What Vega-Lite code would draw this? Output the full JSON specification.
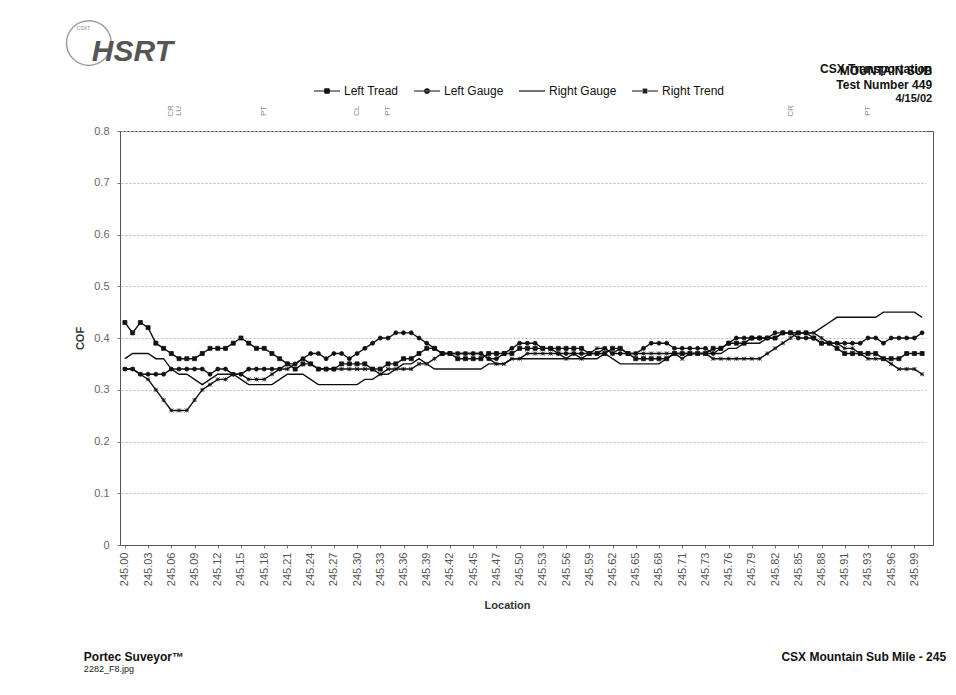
{
"$schema": "https://vega.github.io/schema/vega-lite/v6.json",
"width": 813,
"height": 414,
"autosize": {"type": "none"},
"padding": {"left": 120, "top": 131, "right": 23, "bottom": 150},
"background": "white",
"config": {"view": {"stroke": "#555", "strokeWidth": 1}, "font": "Liberation Sans"},
"datasets": {
"cof": [
{"Location":245.00,"Series":"Left Tread","COF":0.43},{"Location":245.01,"Series":"Left Tread","COF":0.41},{"Location":245.02,"Series":"Left Tread","COF":0.43},{"Location":245.03,"Series":"Left Tread","COF":0.42},{"Location":245.04,"Series":"Left Tread","COF":0.39},{"Location":245.05,"Series":"Left Tread","COF":0.38},{"Location":245.06,"Series":"Left Tread","COF":0.37},{"Location":245.07,"Series":"Left Tread","COF":0.36},{"Location":245.08,"Series":"Left Tread","COF":0.36},{"Location":245.09,"Series":"Left Tread","COF":0.36},
{"Location":245.10,"Series":"Left Tread","COF":0.37},{"Location":245.11,"Series":"Left Tread","COF":0.38},{"Location":245.12,"Series":"Left Tread","COF":0.38},{"Location":245.13,"Series":"Left Tread","COF":0.38},{"Location":245.14,"Series":"Left Tread","COF":0.39},{"Location":245.15,"Series":"Left Tread","COF":0.40},{"Location":245.16,"Series":"Left Tread","COF":0.39},{"Location":245.17,"Series":"Left Tread","COF":0.38},{"Location":245.18,"Series":"Left Tread","COF":0.38},{"Location":245.19,"Series":"Left Tread","COF":0.37},
{"Location":245.20,"Series":"Left Tread","COF":0.36},{"Location":245.21,"Series":"Left Tread","COF":0.35},{"Location":245.22,"Series":"Left Tread","COF":0.34},{"Location":245.23,"Series":"Left Tread","COF":0.35},{"Location":245.24,"Series":"Left Tread","COF":0.35},{"Location":245.25,"Series":"Left Tread","COF":0.34},{"Location":245.26,"Series":"Left Tread","COF":0.34},{"Location":245.27,"Series":"Left Tread","COF":0.34},{"Location":245.28,"Series":"Left Tread","COF":0.35},{"Location":245.29,"Series":"Left Tread","COF":0.35},
{"Location":245.30,"Series":"Left Tread","COF":0.35},{"Location":245.31,"Series":"Left Tread","COF":0.35},{"Location":245.32,"Series":"Left Tread","COF":0.34},{"Location":245.33,"Series":"Left Tread","COF":0.34},{"Location":245.34,"Series":"Left Tread","COF":0.35},{"Location":245.35,"Series":"Left Tread","COF":0.35},{"Location":245.36,"Series":"Left Tread","COF":0.36},{"Location":245.37,"Series":"Left Tread","COF":0.36},{"Location":245.38,"Series":"Left Tread","COF":0.37},{"Location":245.39,"Series":"Left Tread","COF":0.38},
{"Location":245.40,"Series":"Left Tread","COF":0.38},{"Location":245.41,"Series":"Left Tread","COF":0.37},{"Location":245.42,"Series":"Left Tread","COF":0.37},{"Location":245.43,"Series":"Left Tread","COF":0.36},{"Location":245.44,"Series":"Left Tread","COF":0.36},{"Location":245.45,"Series":"Left Tread","COF":0.36},{"Location":245.457,"Series":"Left Tread","COF":0.36},{"Location":245.463,"Series":"Left Tread","COF":0.37},{"Location":245.47,"Series":"Left Tread","COF":0.37},{"Location":245.48,"Series":"Left Tread","COF":0.37},
{"Location":245.49,"Series":"Left Tread","COF":0.37},{"Location":245.50,"Series":"Left Tread","COF":0.38},{"Location":245.51,"Series":"Left Tread","COF":0.38},{"Location":245.52,"Series":"Left Tread","COF":0.38},{"Location":245.53,"Series":"Left Tread","COF":0.38},{"Location":245.54,"Series":"Left Tread","COF":0.38},{"Location":245.55,"Series":"Left Tread","COF":0.38},{"Location":245.56,"Series":"Left Tread","COF":0.38},{"Location":245.57,"Series":"Left Tread","COF":0.38},{"Location":245.58,"Series":"Left Tread","COF":0.38},
{"Location":245.59,"Series":"Left Tread","COF":0.37},{"Location":245.60,"Series":"Left Tread","COF":0.37},{"Location":245.61,"Series":"Left Tread","COF":0.37},{"Location":245.62,"Series":"Left Tread","COF":0.38},{"Location":245.63,"Series":"Left Tread","COF":0.38},{"Location":245.64,"Series":"Left Tread","COF":0.37},{"Location":245.65,"Series":"Left Tread","COF":0.36},{"Location":245.66,"Series":"Left Tread","COF":0.36},{"Location":245.67,"Series":"Left Tread","COF":0.36},{"Location":245.68,"Series":"Left Tread","COF":0.36},
{"Location":245.69,"Series":"Left Tread","COF":0.36},{"Location":245.70,"Series":"Left Tread","COF":0.37},{"Location":245.71,"Series":"Left Tread","COF":0.37},{"Location":245.717,"Series":"Left Tread","COF":0.37},{"Location":245.723,"Series":"Left Tread","COF":0.37},{"Location":245.73,"Series":"Left Tread","COF":0.37},{"Location":245.74,"Series":"Left Tread","COF":0.38},{"Location":245.75,"Series":"Left Tread","COF":0.38},{"Location":245.76,"Series":"Left Tread","COF":0.39},{"Location":245.77,"Series":"Left Tread","COF":0.39},
{"Location":245.78,"Series":"Left Tread","COF":0.39},{"Location":245.79,"Series":"Left Tread","COF":0.40},{"Location":245.80,"Series":"Left Tread","COF":0.40},{"Location":245.81,"Series":"Left Tread","COF":0.40},{"Location":245.82,"Series":"Left Tread","COF":0.40},{"Location":245.83,"Series":"Left Tread","COF":0.41},{"Location":245.84,"Series":"Left Tread","COF":0.41},{"Location":245.85,"Series":"Left Tread","COF":0.41},{"Location":245.86,"Series":"Left Tread","COF":0.41},{"Location":245.87,"Series":"Left Tread","COF":0.40},
{"Location":245.88,"Series":"Left Tread","COF":0.39},{"Location":245.89,"Series":"Left Tread","COF":0.39},{"Location":245.90,"Series":"Left Tread","COF":0.38},{"Location":245.91,"Series":"Left Tread","COF":0.37},{"Location":245.917,"Series":"Left Tread","COF":0.37},{"Location":245.923,"Series":"Left Tread","COF":0.37},{"Location":245.93,"Series":"Left Tread","COF":0.37},{"Location":245.94,"Series":"Left Tread","COF":0.37},{"Location":245.95,"Series":"Left Tread","COF":0.36},{"Location":245.96,"Series":"Left Tread","COF":0.36},
{"Location":245.97,"Series":"Left Tread","COF":0.36},{"Location":245.98,"Series":"Left Tread","COF":0.37},{"Location":245.99,"Series":"Left Tread","COF":0.37},{"Location":245.997,"Series":"Left Tread","COF":0.37},

{"Location":245.00,"Series":"Left Gauge","COF":0.34},{"Location":245.01,"Series":"Left Gauge","COF":0.34},{"Location":245.02,"Series":"Left Gauge","COF":0.33},{"Location":245.03,"Series":"Left Gauge","COF":0.33},{"Location":245.04,"Series":"Left Gauge","COF":0.33},{"Location":245.05,"Series":"Left Gauge","COF":0.33},{"Location":245.06,"Series":"Left Gauge","COF":0.34},{"Location":245.07,"Series":"Left Gauge","COF":0.34},{"Location":245.08,"Series":"Left Gauge","COF":0.34},{"Location":245.09,"Series":"Left Gauge","COF":0.34},
{"Location":245.10,"Series":"Left Gauge","COF":0.34},{"Location":245.11,"Series":"Left Gauge","COF":0.33},{"Location":245.12,"Series":"Left Gauge","COF":0.34},{"Location":245.13,"Series":"Left Gauge","COF":0.34},{"Location":245.14,"Series":"Left Gauge","COF":0.33},{"Location":245.15,"Series":"Left Gauge","COF":0.33},{"Location":245.16,"Series":"Left Gauge","COF":0.34},{"Location":245.17,"Series":"Left Gauge","COF":0.34},{"Location":245.18,"Series":"Left Gauge","COF":0.34},{"Location":245.19,"Series":"Left Gauge","COF":0.34},
{"Location":245.20,"Series":"Left Gauge","COF":0.34},{"Location":245.21,"Series":"Left Gauge","COF":0.35},{"Location":245.22,"Series":"Left Gauge","COF":0.35},{"Location":245.23,"Series":"Left Gauge","COF":0.36},{"Location":245.24,"Series":"Left Gauge","COF":0.37},{"Location":245.25,"Series":"Left Gauge","COF":0.37},{"Location":245.26,"Series":"Left Gauge","COF":0.36},{"Location":245.27,"Series":"Left Gauge","COF":0.37},{"Location":245.28,"Series":"Left Gauge","COF":0.37},{"Location":245.29,"Series":"Left Gauge","COF":0.36},
{"Location":245.30,"Series":"Left Gauge","COF":0.37},{"Location":245.31,"Series":"Left Gauge","COF":0.38},{"Location":245.32,"Series":"Left Gauge","COF":0.39},{"Location":245.33,"Series":"Left Gauge","COF":0.40},{"Location":245.34,"Series":"Left Gauge","COF":0.40},{"Location":245.35,"Series":"Left Gauge","COF":0.41},{"Location":245.36,"Series":"Left Gauge","COF":0.41},{"Location":245.37,"Series":"Left Gauge","COF":0.41},{"Location":245.38,"Series":"Left Gauge","COF":0.40},{"Location":245.39,"Series":"Left Gauge","COF":0.39},
{"Location":245.40,"Series":"Left Gauge","COF":0.38},{"Location":245.41,"Series":"Left Gauge","COF":0.37},{"Location":245.42,"Series":"Left Gauge","COF":0.37},{"Location":245.43,"Series":"Left Gauge","COF":0.37},{"Location":245.44,"Series":"Left Gauge","COF":0.37},{"Location":245.45,"Series":"Left Gauge","COF":0.37},{"Location":245.457,"Series":"Left Gauge","COF":0.37},{"Location":245.463,"Series":"Left Gauge","COF":0.36},{"Location":245.47,"Series":"Left Gauge","COF":0.36},{"Location":245.48,"Series":"Left Gauge","COF":0.37},
{"Location":245.49,"Series":"Left Gauge","COF":0.38},{"Location":245.50,"Series":"Left Gauge","COF":0.39},{"Location":245.51,"Series":"Left Gauge","COF":0.39},{"Location":245.52,"Series":"Left Gauge","COF":0.39},{"Location":245.53,"Series":"Left Gauge","COF":0.38},{"Location":245.54,"Series":"Left Gauge","COF":0.38},{"Location":245.55,"Series":"Left Gauge","COF":0.37},{"Location":245.56,"Series":"Left Gauge","COF":0.37},{"Location":245.57,"Series":"Left Gauge","COF":0.37},{"Location":245.58,"Series":"Left Gauge","COF":0.37},
{"Location":245.59,"Series":"Left Gauge","COF":0.37},{"Location":245.60,"Series":"Left Gauge","COF":0.37},{"Location":245.61,"Series":"Left Gauge","COF":0.38},{"Location":245.62,"Series":"Left Gauge","COF":0.37},{"Location":245.63,"Series":"Left Gauge","COF":0.37},{"Location":245.64,"Series":"Left Gauge","COF":0.37},{"Location":245.65,"Series":"Left Gauge","COF":0.37},{"Location":245.66,"Series":"Left Gauge","COF":0.38},{"Location":245.67,"Series":"Left Gauge","COF":0.39},{"Location":245.68,"Series":"Left Gauge","COF":0.39},
{"Location":245.69,"Series":"Left Gauge","COF":0.39},{"Location":245.70,"Series":"Left Gauge","COF":0.38},{"Location":245.71,"Series":"Left Gauge","COF":0.38},{"Location":245.717,"Series":"Left Gauge","COF":0.38},{"Location":245.723,"Series":"Left Gauge","COF":0.38},{"Location":245.73,"Series":"Left Gauge","COF":0.38},{"Location":245.74,"Series":"Left Gauge","COF":0.37},{"Location":245.75,"Series":"Left Gauge","COF":0.38},{"Location":245.76,"Series":"Left Gauge","COF":0.39},{"Location":245.77,"Series":"Left Gauge","COF":0.40},
{"Location":245.78,"Series":"Left Gauge","COF":0.40},{"Location":245.79,"Series":"Left Gauge","COF":0.40},{"Location":245.80,"Series":"Left Gauge","COF":0.40},{"Location":245.81,"Series":"Left Gauge","COF":0.40},{"Location":245.82,"Series":"Left Gauge","COF":0.41},{"Location":245.83,"Series":"Left Gauge","COF":0.41},{"Location":245.84,"Series":"Left Gauge","COF":0.41},{"Location":245.85,"Series":"Left Gauge","COF":0.40},{"Location":245.86,"Series":"Left Gauge","COF":0.40},{"Location":245.87,"Series":"Left Gauge","COF":0.40},
{"Location":245.88,"Series":"Left Gauge","COF":0.39},{"Location":245.89,"Series":"Left Gauge","COF":0.39},{"Location":245.90,"Series":"Left Gauge","COF":0.39},{"Location":245.91,"Series":"Left Gauge","COF":0.39},{"Location":245.917,"Series":"Left Gauge","COF":0.39},{"Location":245.923,"Series":"Left Gauge","COF":0.39},{"Location":245.93,"Series":"Left Gauge","COF":0.40},{"Location":245.94,"Series":"Left Gauge","COF":0.40},{"Location":245.95,"Series":"Left Gauge","COF":0.39},{"Location":245.96,"Series":"Left Gauge","COF":0.40},
{"Location":245.97,"Series":"Left Gauge","COF":0.40},{"Location":245.98,"Series":"Left Gauge","COF":0.40},{"Location":245.99,"Series":"Left Gauge","COF":0.40},{"Location":245.997,"Series":"Left Gauge","COF":0.41},

{"Location":245.00,"Series":"Right Gauge","COF":0.36},{"Location":245.01,"Series":"Right Gauge","COF":0.37},{"Location":245.02,"Series":"Right Gauge","COF":0.37},{"Location":245.03,"Series":"Right Gauge","COF":0.37},{"Location":245.04,"Series":"Right Gauge","COF":0.36},{"Location":245.05,"Series":"Right Gauge","COF":0.36},{"Location":245.06,"Series":"Right Gauge","COF":0.34},{"Location":245.07,"Series":"Right Gauge","COF":0.33},{"Location":245.08,"Series":"Right Gauge","COF":0.33},{"Location":245.09,"Series":"Right Gauge","COF":0.32},
{"Location":245.10,"Series":"Right Gauge","COF":0.31},{"Location":245.11,"Series":"Right Gauge","COF":0.32},{"Location":245.12,"Series":"Right Gauge","COF":0.33},{"Location":245.13,"Series":"Right Gauge","COF":0.33},{"Location":245.14,"Series":"Right Gauge","COF":0.33},{"Location":245.15,"Series":"Right Gauge","COF":0.32},{"Location":245.16,"Series":"Right Gauge","COF":0.31},{"Location":245.17,"Series":"Right Gauge","COF":0.31},{"Location":245.18,"Series":"Right Gauge","COF":0.31},{"Location":245.19,"Series":"Right Gauge","COF":0.31},
{"Location":245.20,"Series":"Right Gauge","COF":0.32},{"Location":245.21,"Series":"Right Gauge","COF":0.33},{"Location":245.22,"Series":"Right Gauge","COF":0.33},{"Location":245.23,"Series":"Right Gauge","COF":0.33},{"Location":245.24,"Series":"Right Gauge","COF":0.32},{"Location":245.25,"Series":"Right Gauge","COF":0.31},{"Location":245.26,"Series":"Right Gauge","COF":0.31},{"Location":245.27,"Series":"Right Gauge","COF":0.31},{"Location":245.28,"Series":"Right Gauge","COF":0.31},{"Location":245.29,"Series":"Right Gauge","COF":0.31},
{"Location":245.30,"Series":"Right Gauge","COF":0.31},{"Location":245.31,"Series":"Right Gauge","COF":0.32},{"Location":245.32,"Series":"Right Gauge","COF":0.32},{"Location":245.33,"Series":"Right Gauge","COF":0.33},{"Location":245.34,"Series":"Right Gauge","COF":0.33},{"Location":245.35,"Series":"Right Gauge","COF":0.34},{"Location":245.36,"Series":"Right Gauge","COF":0.35},{"Location":245.37,"Series":"Right Gauge","COF":0.35},{"Location":245.38,"Series":"Right Gauge","COF":0.36},{"Location":245.39,"Series":"Right Gauge","COF":0.35},
{"Location":245.40,"Series":"Right Gauge","COF":0.34},{"Location":245.41,"Series":"Right Gauge","COF":0.34},{"Location":245.42,"Series":"Right Gauge","COF":0.34},{"Location":245.43,"Series":"Right Gauge","COF":0.34},{"Location":245.44,"Series":"Right Gauge","COF":0.34},{"Location":245.45,"Series":"Right Gauge","COF":0.34},{"Location":245.457,"Series":"Right Gauge","COF":0.34},{"Location":245.463,"Series":"Right Gauge","COF":0.35},{"Location":245.47,"Series":"Right Gauge","COF":0.35},{"Location":245.48,"Series":"Right Gauge","COF":0.35},
{"Location":245.49,"Series":"Right Gauge","COF":0.36},{"Location":245.50,"Series":"Right Gauge","COF":0.36},{"Location":245.51,"Series":"Right Gauge","COF":0.36},{"Location":245.52,"Series":"Right Gauge","COF":0.36},{"Location":245.53,"Series":"Right Gauge","COF":0.36},{"Location":245.54,"Series":"Right Gauge","COF":0.36},{"Location":245.55,"Series":"Right Gauge","COF":0.36},{"Location":245.56,"Series":"Right Gauge","COF":0.36},{"Location":245.57,"Series":"Right Gauge","COF":0.36},{"Location":245.58,"Series":"Right Gauge","COF":0.36},
{"Location":245.59,"Series":"Right Gauge","COF":0.36},{"Location":245.60,"Series":"Right Gauge","COF":0.36},{"Location":245.61,"Series":"Right Gauge","COF":0.37},{"Location":245.62,"Series":"Right Gauge","COF":0.36},{"Location":245.63,"Series":"Right Gauge","COF":0.35},{"Location":245.64,"Series":"Right Gauge","COF":0.35},{"Location":245.65,"Series":"Right Gauge","COF":0.35},{"Location":245.66,"Series":"Right Gauge","COF":0.35},{"Location":245.67,"Series":"Right Gauge","COF":0.35},{"Location":245.68,"Series":"Right Gauge","COF":0.35},
{"Location":245.69,"Series":"Right Gauge","COF":0.36},{"Location":245.70,"Series":"Right Gauge","COF":0.37},{"Location":245.71,"Series":"Right Gauge","COF":0.37},{"Location":245.717,"Series":"Right Gauge","COF":0.37},{"Location":245.723,"Series":"Right Gauge","COF":0.37},{"Location":245.73,"Series":"Right Gauge","COF":0.37},{"Location":245.74,"Series":"Right Gauge","COF":0.37},{"Location":245.75,"Series":"Right Gauge","COF":0.37},{"Location":245.76,"Series":"Right Gauge","COF":0.38},{"Location":245.77,"Series":"Right Gauge","COF":0.38},
{"Location":245.78,"Series":"Right Gauge","COF":0.39},{"Location":245.79,"Series":"Right Gauge","COF":0.39},{"Location":245.80,"Series":"Right Gauge","COF":0.39},{"Location":245.81,"Series":"Right Gauge","COF":0.40},{"Location":245.82,"Series":"Right Gauge","COF":0.40},{"Location":245.83,"Series":"Right Gauge","COF":0.41},{"Location":245.84,"Series":"Right Gauge","COF":0.41},{"Location":245.85,"Series":"Right Gauge","COF":0.41},{"Location":245.86,"Series":"Right Gauge","COF":0.41},{"Location":245.87,"Series":"Right Gauge","COF":0.41},
{"Location":245.88,"Series":"Right Gauge","COF":0.42},{"Location":245.89,"Series":"Right Gauge","COF":0.43},{"Location":245.90,"Series":"Right Gauge","COF":0.44},{"Location":245.91,"Series":"Right Gauge","COF":0.44},{"Location":245.917,"Series":"Right Gauge","COF":0.44},{"Location":245.923,"Series":"Right Gauge","COF":0.44},{"Location":245.93,"Series":"Right Gauge","COF":0.44},{"Location":245.94,"Series":"Right Gauge","COF":0.44},{"Location":245.95,"Series":"Right Gauge","COF":0.45},{"Location":245.96,"Series":"Right Gauge","COF":0.45},
{"Location":245.97,"Series":"Right Gauge","COF":0.45},{"Location":245.98,"Series":"Right Gauge","COF":0.45},{"Location":245.99,"Series":"Right Gauge","COF":0.45},{"Location":245.997,"Series":"Right Gauge","COF":0.44},

{"Location":245.00,"Series":"Right Trend","COF":0.34},{"Location":245.01,"Series":"Right Trend","COF":0.34},{"Location":245.02,"Series":"Right Trend","COF":0.33},{"Location":245.03,"Series":"Right Trend","COF":0.32},{"Location":245.04,"Series":"Right Trend","COF":0.30},{"Location":245.05,"Series":"Right Trend","COF":0.28},{"Location":245.06,"Series":"Right Trend","COF":0.26},{"Location":245.07,"Series":"Right Trend","COF":0.26},{"Location":245.08,"Series":"Right Trend","COF":0.26},{"Location":245.09,"Series":"Right Trend","COF":0.28},
{"Location":245.10,"Series":"Right Trend","COF":0.30},{"Location":245.11,"Series":"Right Trend","COF":0.31},{"Location":245.12,"Series":"Right Trend","COF":0.32},{"Location":245.13,"Series":"Right Trend","COF":0.32},{"Location":245.14,"Series":"Right Trend","COF":0.33},{"Location":245.15,"Series":"Right Trend","COF":0.33},{"Location":245.16,"Series":"Right Trend","COF":0.32},{"Location":245.17,"Series":"Right Trend","COF":0.32},{"Location":245.18,"Series":"Right Trend","COF":0.32},{"Location":245.19,"Series":"Right Trend","COF":0.33},
{"Location":245.20,"Series":"Right Trend","COF":0.34},{"Location":245.21,"Series":"Right Trend","COF":0.34},{"Location":245.22,"Series":"Right Trend","COF":0.35},{"Location":245.23,"Series":"Right Trend","COF":0.36},{"Location":245.24,"Series":"Right Trend","COF":0.35},{"Location":245.25,"Series":"Right Trend","COF":0.34},{"Location":245.26,"Series":"Right Trend","COF":0.34},{"Location":245.27,"Series":"Right Trend","COF":0.34},{"Location":245.28,"Series":"Right Trend","COF":0.34},{"Location":245.29,"Series":"Right Trend","COF":0.34},
{"Location":245.30,"Series":"Right Trend","COF":0.34},{"Location":245.31,"Series":"Right Trend","COF":0.34},{"Location":245.32,"Series":"Right Trend","COF":0.34},{"Location":245.33,"Series":"Right Trend","COF":0.33},{"Location":245.34,"Series":"Right Trend","COF":0.34},{"Location":245.35,"Series":"Right Trend","COF":0.34},{"Location":245.36,"Series":"Right Trend","COF":0.34},{"Location":245.37,"Series":"Right Trend","COF":0.34},{"Location":245.38,"Series":"Right Trend","COF":0.35},{"Location":245.39,"Series":"Right Trend","COF":0.35},
{"Location":245.40,"Series":"Right Trend","COF":0.36},{"Location":245.41,"Series":"Right Trend","COF":0.37},{"Location":245.42,"Series":"Right Trend","COF":0.37},{"Location":245.43,"Series":"Right Trend","COF":0.37},{"Location":245.44,"Series":"Right Trend","COF":0.37},{"Location":245.45,"Series":"Right Trend","COF":0.37},{"Location":245.457,"Series":"Right Trend","COF":0.37},{"Location":245.463,"Series":"Right Trend","COF":0.36},{"Location":245.47,"Series":"Right Trend","COF":0.35},{"Location":245.48,"Series":"Right Trend","COF":0.35},
{"Location":245.49,"Series":"Right Trend","COF":0.36},{"Location":245.50,"Series":"Right Trend","COF":0.36},{"Location":245.51,"Series":"Right Trend","COF":0.37},{"Location":245.52,"Series":"Right Trend","COF":0.37},{"Location":245.53,"Series":"Right Trend","COF":0.37},{"Location":245.54,"Series":"Right Trend","COF":0.37},{"Location":245.55,"Series":"Right Trend","COF":0.37},{"Location":245.56,"Series":"Right Trend","COF":0.36},{"Location":245.57,"Series":"Right Trend","COF":0.37},{"Location":245.58,"Series":"Right Trend","COF":0.36},
{"Location":245.59,"Series":"Right Trend","COF":0.37},{"Location":245.60,"Series":"Right Trend","COF":0.38},{"Location":245.61,"Series":"Right Trend","COF":0.38},{"Location":245.62,"Series":"Right Trend","COF":0.37},{"Location":245.63,"Series":"Right Trend","COF":0.38},{"Location":245.64,"Series":"Right Trend","COF":0.37},{"Location":245.65,"Series":"Right Trend","COF":0.37},{"Location":245.66,"Series":"Right Trend","COF":0.37},{"Location":245.67,"Series":"Right Trend","COF":0.37},{"Location":245.68,"Series":"Right Trend","COF":0.37},
{"Location":245.69,"Series":"Right Trend","COF":0.37},{"Location":245.70,"Series":"Right Trend","COF":0.37},{"Location":245.71,"Series":"Right Trend","COF":0.36},{"Location":245.717,"Series":"Right Trend","COF":0.37},{"Location":245.723,"Series":"Right Trend","COF":0.37},{"Location":245.73,"Series":"Right Trend","COF":0.37},{"Location":245.74,"Series":"Right Trend","COF":0.36},{"Location":245.75,"Series":"Right Trend","COF":0.36},{"Location":245.76,"Series":"Right Trend","COF":0.36},{"Location":245.77,"Series":"Right Trend","COF":0.36},
{"Location":245.78,"Series":"Right Trend","COF":0.36},{"Location":245.79,"Series":"Right Trend","COF":0.36},{"Location":245.80,"Series":"Right Trend","COF":0.36},{"Location":245.81,"Series":"Right Trend","COF":0.37},{"Location":245.82,"Series":"Right Trend","COF":0.38},{"Location":245.83,"Series":"Right Trend","COF":0.39},{"Location":245.84,"Series":"Right Trend","COF":0.40},{"Location":245.85,"Series":"Right Trend","COF":0.41},{"Location":245.86,"Series":"Right Trend","COF":0.41},{"Location":245.87,"Series":"Right Trend","COF":0.41},
{"Location":245.88,"Series":"Right Trend","COF":0.40},{"Location":245.89,"Series":"Right Trend","COF":0.39},{"Location":245.90,"Series":"Right Trend","COF":0.39},{"Location":245.91,"Series":"Right Trend","COF":0.38},{"Location":245.917,"Series":"Right Trend","COF":0.38},{"Location":245.923,"Series":"Right Trend","COF":0.37},{"Location":245.93,"Series":"Right Trend","COF":0.36},{"Location":245.94,"Series":"Right Trend","COF":0.36},{"Location":245.95,"Series":"Right Trend","COF":0.36},{"Location":245.96,"Series":"Right Trend","COF":0.35},
{"Location":245.97,"Series":"Right Trend","COF":0.34},{"Location":245.98,"Series":"Right Trend","COF":0.34},{"Location":245.99,"Series":"Right Trend","COF":0.34},{"Location":245.997,"Series":"Right Trend","COF":0.33}
],
"notes": [
{"Location":245.06,"Mark":"CR"},{"Location":245.07,"Mark":"LU"},{"Location":245.18,"Mark":"PT"},{"Location":245.30,"Mark":"CL"},{"Location":245.34,"Mark":"PT"},{"Location":245.84,"Mark":"CR"},{"Location":245.93,"Mark":"PT"}
]
},
"resolve": {"scale": {"shape": "independent"}, "legend": {"shape": "independent"}},
"layer": [
{
"data": {"name": "cof"},
"mark": {"type": "line", "color": "#111", "strokeWidth": 1.4},
"encoding": {
"x": {"field": "Location", "type": "ordinal", "title": "Location", "scale": {"type": "point", "range": [1, 806]},
"axis": {"title": "Location", "values": [245,245.03,245.06,245.09,245.12,245.15,245.18,245.21,245.24,245.27,245.3,245.33,245.36,245.39,245.42,245.45,245.47,245.5,245.53,245.56,245.59,245.62,245.65,245.68,245.71,245.73,245.76,245.79,245.82,245.85,245.88,245.91,245.93,245.96,245.99],
"labelExpr": "format(datum.value, '.2f')", "labelAngle": 270, "labelAlign": "right", "labelBaseline": "middle", "labelFont": "Liberation Sans", "labelFontSize": 11, "labelColor": "#555", "labelPadding": 4, "ticks": true, "tickSize": 3, "tickColor": "#777", "domainColor": "#555", "grid": false,
"titleFont": "Liberation Sans", "titleFontSize": 11, "titleFontWeight": "bold", "titleColor": "#333", "titlePadding": 14, "titleX": 387}},
"y": {"field": "COF", "type": "quantitative", "title": "COF", "scale": {"domain": [0, 0.8], "nice": false, "zero": true},
"axis": {"title": "COF", "values": [0,0.1,0.2,0.3,0.4,0.5,0.6,0.7,0.8], "labelExpr": "datum.value == 0 ? '0' : format(datum.value, '.1f')", "labelFont": "Liberation Sans", "labelFontSize": 11, "labelColor": "#666", "labelPadding": 8, "tickSize": 3, "tickColor": "#777", "domainColor": "#555", "grid": true, "gridColor": "#b8b8b8", "gridDash": [2, 2], "gridWidth": 1,
"titleFont": "Liberation Sans", "titleFontSize": 11, "titleFontWeight": "bold", "titleColor": "#333", "titlePadding": 8}},
"detail": {"field": "Series"}
}
},
{
"data": {"name": "cof"},
"transform": [{"filter": "datum.Series != 'Right Gauge'"}],
"mark": {"type": "point", "filled": true, "size": 16, "color": "#111", "opacity": 1, "stroke": "#111", "strokeWidth": 0.8},
"encoding": {
"x": {"field": "Location", "type": "ordinal", "title": "Location"},
"y": {"field": "COF", "type": "quantitative", "title": "COF"},
"shape": {"field": "Series", "type": "nominal", "scale": {"domain": ["Left Tread", "Left Gauge", "Right Trend"], "range": ["square", "circle", "M-1,-1L1,1M-1,1L1,-1M0,-1L0,1M-1,0L1,0"]}, "legend": null}
}
},
{
"data": {"name": "cof"},
"transform": [{"filter": "datum.COF > 5"}],
"mark": {"type": "point", "filled": false, "color": "#111", "strokeWidth": 1.2, "opacity": 1},
"encoding": {
"shape": {"field": "Series", "type": "nominal",
"scale": {"domain": ["Left Tread", "Left Gauge", "Right Gauge", "Right Trend"],
"range": ["M-1,0L1,0M-0.17,-0.17L0.17,-0.17M-0.17,-0.09L0.17,-0.09M-0.17,0.09L0.17,0.09M-0.17,0.17L0.17,0.17M-0.17,-0.17L-0.17,0.17M0.17,-0.17L0.17,0.17", "M-1,0L1,0M0.17,0A0.17,0.17,0,1,1,-0.17,0A0.17,0.17,0,1,1,0.17,0M-0.12,-0.1L0.12,-0.1M-0.12,0.1L0.12,0.1", "M-1,0L1,0", "M-1,0L1,0M-0.17,-0.17L0.17,0.17M-0.17,0.17L0.17,-0.17M0,-0.22L0,0.22"]},
"legend": {"orient": "none", "legendX": 193, "legendY": -54, "direction": "horizontal", "title": null, "symbolSize": 676, "symbolStrokeWidth": 1.2, "symbolStrokeColor": "#111", "symbolOpacity": 1, "labelFont": "Liberation Sans", "labelFontSize": 12, "labelColor": "#111", "labelOffset": 3, "columnPadding": 12}}
}
},
{
"data": {"name": "notes"},
"mark": {"type": "text", "angle": 270, "align": "center", "baseline": "middle", "font": "Liberation Sans", "fontSize": 8, "color": "#888"},
"encoding": {
"x": {"field": "Location", "type": "ordinal", "title": "Location"},
"y": {"datum": 0.8387, "type": "quantitative", "title": "COF"},
"text": {"field": "Mark"}
}
},
{
"data": {"values": [{}]},
"mark": {"type": "text", "align": "right", "baseline": "alphabetic", "dx": 10, "font": "Liberation Sans", "fontSize": 12, "fontWeight": "bold", "color": "#111"},
"encoding": {"x": {"datum": 245.997, "type": "ordinal", "title": "Location"}, "y": {"datum": 0.912, "type": "quantitative", "title": "COF"}, "text": {"value": "CSX Transportation"}}
},
{
"data": {"values": [{}]},
"mark": {"type": "text", "align": "right", "baseline": "alphabetic", "dx": 10, "font": "Liberation Sans", "fontSize": 12, "fontWeight": "bold", "color": "#111"},
"encoding": {"x": {"datum": 245.997, "type": "ordinal", "title": "Location"}, "y": {"datum": 0.908, "type": "quantitative", "title": "COF"}, "text": {"value": "MOUNTAIN SUB"}}
},
{
"data": {"values": [{}]},
"mark": {"type": "text", "align": "right", "baseline": "alphabetic", "dx": 10, "font": "Liberation Sans", "fontSize": 12, "fontWeight": "bold", "color": "#111"},
"encoding": {"x": {"datum": 245.997, "type": "ordinal", "title": "Location"}, "y": {"datum": 0.881, "type": "quantitative", "title": "COF"}, "text": {"value": "Test Number 449"}}
},
{
"data": {"values": [{}]},
"mark": {"type": "text", "align": "right", "baseline": "alphabetic", "dx": 10, "font": "Liberation Sans", "fontSize": 11, "fontWeight": "bold", "color": "#111"},
"encoding": {"x": {"datum": 245.997, "type": "ordinal", "title": "Location"}, "y": {"datum": 0.856, "type": "quantitative", "title": "COF"}, "text": {"value": "4/15/02"}}
},
{
"data": {"values": [{}]},
"mark": {"type": "point", "shape": "circle", "filled": false, "size": 2000, "stroke": "#777", "strokeWidth": 1.5, "xOffset": -36},
"encoding": {"x": {"datum": 245.0, "type": "ordinal", "title": "Location"}, "y": {"datum": 0.97, "type": "quantitative", "title": "COF"}}
},
{
"data": {"values": [{}]},
"mark": {"type": "text", "align": "left", "baseline": "alphabetic", "dx": -33, "font": "Liberation Sans", "fontSize": 30, "fontWeight": "bold", "fontStyle": "italic", "color": "#555"},
"encoding": {"x": {"datum": 245.0, "type": "ordinal", "title": "Location"}, "y": {"datum": 0.935, "type": "quantitative", "title": "COF"}, "text": {"value": "HSRT"}}
},
{
"data": {"values": [{}]},
"mark": {"type": "text", "align": "left", "baseline": "alphabetic", "dx": -48, "font": "Liberation Sans", "fontSize": 5, "color": "#888"},
"encoding": {"x": {"datum": 245.0, "type": "ordinal", "title": "Location"}, "y": {"datum": 0.995, "type": "quantitative", "title": "COF"}, "text": {"value": "CSXT"}}
},
{
"data": {"values": [{}]},
"mark": {"type": "text", "align": "left", "baseline": "alphabetic", "dx": -41, "font": "Liberation Sans", "fontSize": 12, "fontWeight": "bold", "color": "#111"},
"encoding": {"x": {"datum": 245.0, "type": "ordinal", "title": "Location"}, "y": {"datum": -0.224, "type": "quantitative", "title": "COF"}, "text": {"value": "Portec Suveyor™"}}
},
{
"data": {"values": [{}]},
"mark": {"type": "text", "align": "left", "baseline": "alphabetic", "dx": -41, "font": "Liberation Sans", "fontSize": 9, "color": "#222"},
"encoding": {"x": {"datum": 245.0, "type": "ordinal", "title": "Location"}, "y": {"datum": -0.2454, "type": "quantitative", "title": "COF"}, "text": {"value": "2282_F8.jpg"}}
},
{
"data": {"values": [{}]},
"mark": {"type": "text", "align": "right", "baseline": "alphabetic", "dx": 24, "font": "Liberation Sans", "fontSize": 12, "fontWeight": "bold", "color": "#111"},
"encoding": {"x": {"datum": 245.997, "type": "ordinal", "title": "Location"}, "y": {"datum": -0.224, "type": "quantitative", "title": "COF"}, "text": {"value": "CSX Mountain Sub Mile - 245"}}
}
]
}
